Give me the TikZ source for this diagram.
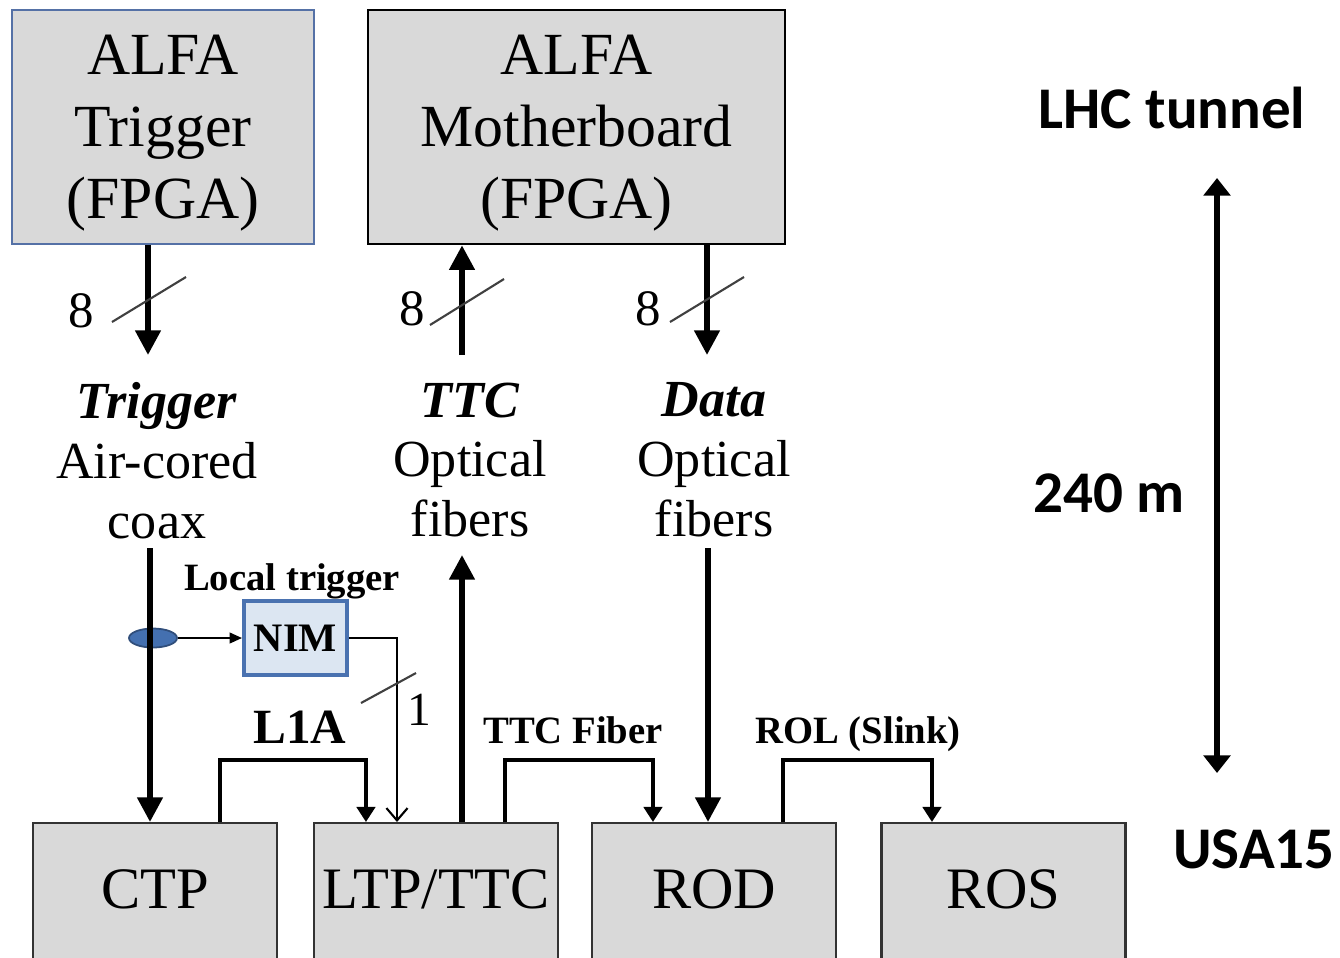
\documentclass[tikz,border=0pt]{standalone}
\usepackage{fontspec}
\setmainfont{Liberation Serif}
\newfontfamily\calfont{Carlito}
\usetikzlibrary{arrows.meta,shapes.geometric}
\definecolor{boxgray}{HTML}{D9D9D9}
\definecolor{trigline}{HTML}{5571A6}
\definecolor{nimfill}{HTML}{DCE6F2}
\definecolor{nimline}{HTML}{4A72B0}
\definecolor{tapblue}{HTML}{4470B0}

\begin{document}
\begin{tikzpicture}[x=0.01cm,y=-0.01cm,
  fpga box/.style={draw,fill=boxgray,line width=0.7pt,minimum height=2.34cm,align=center,inner sep=0pt,text depth=0pt,font=\fontsize{17}{20.5}\selectfont},
  usa box/.style={draw=black!80,fill=boxgray,line width=0.7pt,anchor=north,minimum width=2.44cm,minimum height=1.40cm,inner sep=1pt,text height=0.40cm,text depth=0.10cm,font=\fontsize{16.7}{20}\selectfont},
  fiber text/.style={anchor=north,align=center,inner sep=0pt,font=\fontsize{14.8}{17}\selectfont},
  bus num/.style={anchor=base,inner sep=0pt,font=\fontsize{14.5}{17}\selectfont},
  link text/.style={anchor=base,inner sep=0pt,font=\bfseries\fontsize{11}{13}\selectfont},
  site text/.style={anchor=base,inner sep=0pt,font=\calfont\bfseries\fontsize{16.8}{20}\selectfont},
  fat/.style={line width=1.6pt,-{Triangle[length=7pt,width=7pt]}},
  link line/.style={line width=1.2pt,-{Triangle[length=4.3pt,width=5.2pt]}},
  thin line/.style={line width=0.6pt},
  bus mark/.style={line width=0.6pt,draw=black!75}]

  \path[use as bounding box,fill=white] (0,0) rectangle (1340,957);

  % tunnel side
  \node[fpga box,draw=trigline,minimum width=3.02cm] (atrig) at (163,127) {ALFA\\Trigger\\(FPGA)};
  \node[fpga box,minimum width=4.17cm] (amb) at (576.5,127) {ALFA\\Motherboard\\(FPGA)};

  % counting room side
  \node[usa box] (ctp) at (155,822) {CTP};
  \node[usa box] (ltp) at (436,822) {LTP/TTC};
  \node[usa box] (rod) at (714,822) {ROD};
  \node[usa box] (ros) at (1003.5,822) {ROS};

  \node[draw=nimline,fill=nimfill,line width=1.1pt,minimum width=1.03cm,minimum height=0.74cm,inner sep=0pt,font=\bfseries\fontsize{11.5}{13}\selectfont] (nim) at (295.5,638) {NIM};
  \node[ellipse,fill=tapblue,draw=tapblue!70!black,line width=0.5pt,minimum width=0.48cm,minimum height=0.19cm,inner sep=0pt] (tap) at (153,638) {};

  % cable labels
  \node[fiber text] (trigfib) at (157,382) {\textbf{\textit{Trigger}}\\Air-cored\\coax};
  \node[fiber text] (ttcfib) at (470,382) {\textbf{\textit{TTC}}\\Optical\\fibers};
  \node[fiber text] (datafib) at (714,382) {\textbf{\textit{Data}}\\Optical\\fibers};

  \node[bus num] (trigbus) at (81,327) {8};
  \node[bus num] (ttcbus) at (412,325) {8};
  \node[bus num] (databus) at (648,325) {8};
  \node[bus num,font=\fontsize{13.5}{16}\selectfont] (nimbus) at (419,725) {1};

  \node[link text] (loctrig) at (292,590) {Local trigger};
  \node[link text,font=\bfseries\fontsize{14}{16}\selectfont] (l1a) at (300,743) {L1A};
  \node[link text] (ttcfiber) at (573,743) {TTC Fiber};
  \node[link text] (rol) at (858,743) {ROL (Slink)};

  \node[site text] (tunnel) at (1172,128) {LHC tunnel};
  \node[site text] (dist) at (1109,512) {240 m};
  \node[site text] (usa) at (1254,868) {USA15};

  \coordinate (trigend) at (148,355);
  \coordinate (ttcend) at (462,355);
  \coordinate (dataend) at (707,355);
  \coordinate (coaxtop) at (150,548);
  \coordinate (ttcup) at (462,555);
  \coordinate (datatop) at (708,548);
  \coordinate (tunneltop) at (1217,178);
  \coordinate (tunnelbot) at (1217,773);

  % 8-bit buses
  \draw[fat] (atrig.south -| trigend) -- (trigend);
  \draw[fat] (ttcend) -- (amb.south -| ttcend);
  \draw[fat] (amb.south -| dataend) -- (dataend);
  \draw[bus mark] (trigend) ++(-36,-33) -- ++(74,-45);
  \draw[bus mark] (ttcend) ++(-32,-30) -- ++(74,-46);
  \draw[bus mark] (dataend) ++(-37,-33) -- ++(74,-45);

  % long lines
  \draw[fat] (coaxtop) -- (ctp.north -| coaxtop);
  \draw[fat] (ltp.north -| ttcup) -- (ttcup);
  \draw[fat] (datatop) -- (rod.north -| datatop);

  % local trigger
  \draw[thin line,-{Triangle[length=3.5pt,width=3pt]}] (tap.east) -- (nim.west);
  \draw[thin line,-{Straight Barb[length=3.5pt,width=6pt]}] (nim.east) -| ([xshift=-0.39cm]ltp.north);
  \draw[bus mark] (361,703) -- (416,673);

  % links between crates
  \draw[link line] ([xshift=0.65cm]ctp.north) |- ([xshift=-0.70cm,yshift=0.62cm]ltp.north) -- ([xshift=-0.70cm]ltp.north);
  \draw[link line] ([xshift=0.69cm]ltp.north) |- ([xshift=-0.61cm,yshift=0.62cm]rod.north) -- ([xshift=-0.61cm]rod.north);
  \draw[link line] ([xshift=0.69cm]rod.north) |- ([xshift=-0.715cm,yshift=0.62cm]ros.north) -- ([xshift=-0.715cm]ros.north);

  \draw[line width=1.6pt,{Triangle[length=5pt,width=7.5pt]}-{Triangle[length=5pt,width=7.5pt]}] (tunneltop) -- (tunnelbot);
\end{tikzpicture}
\end{document}
